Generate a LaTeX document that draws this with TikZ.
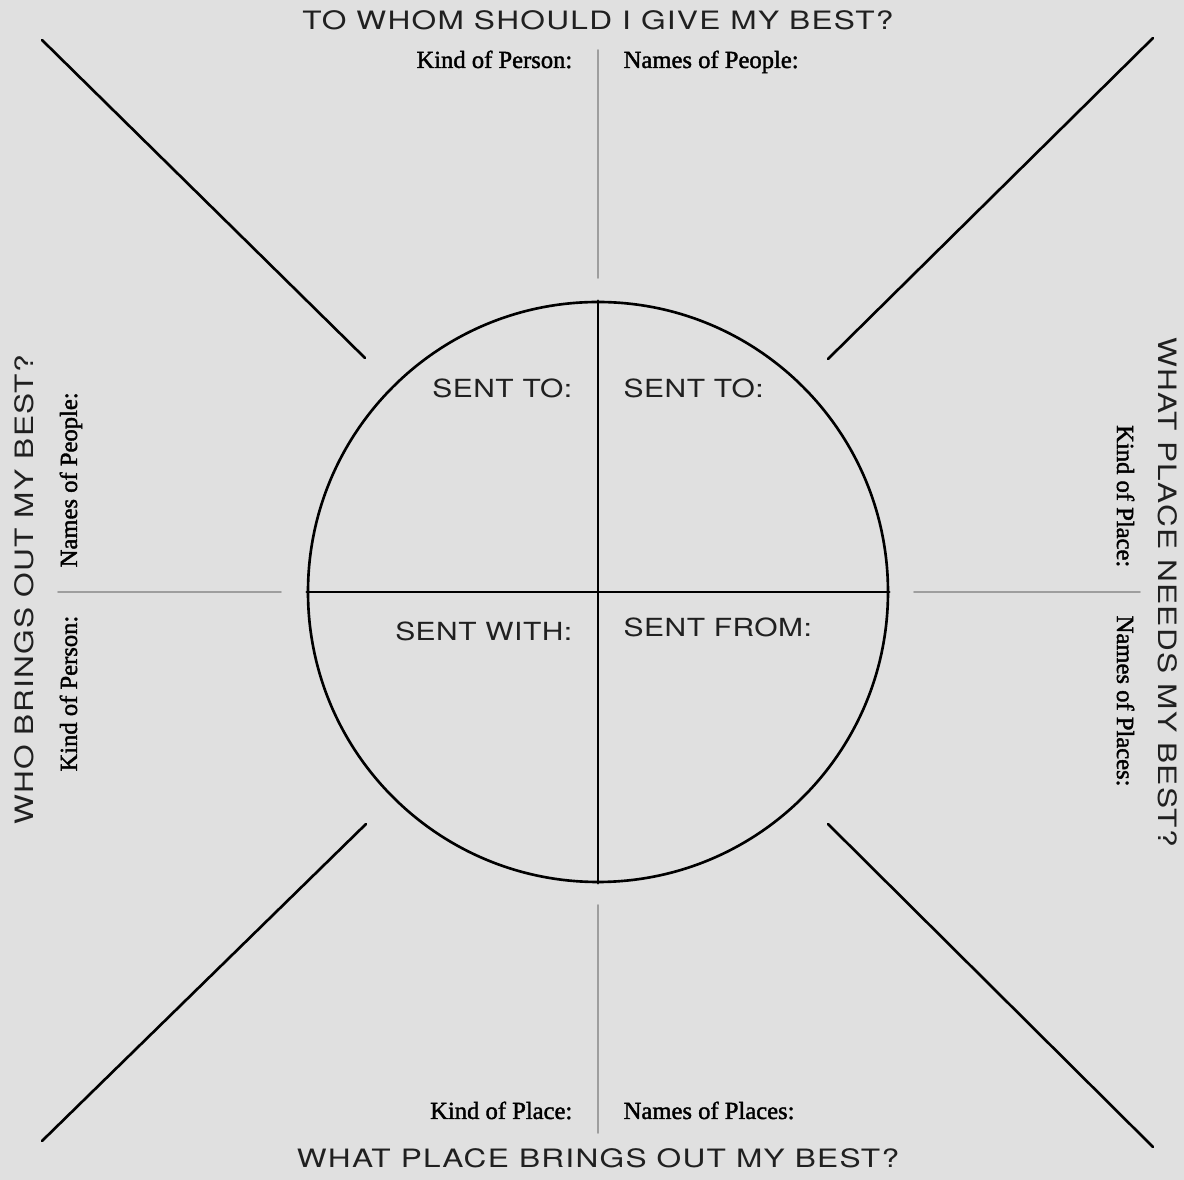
\documentclass[tikz,border=0pt]{standalone}
\usepackage{fontspec}
\setmainfont{Liberation Serif}
\newfontfamily\promptfont[FakeBold=1.6]{Liberation Serif}
\newfontfamily\headfont[FakeStretch=1.25,LetterSpace=5]{TeX Gyre Heros}
\newfontfamily\quadfont[FakeStretch=1.2,LetterSpace=2]{TeX Gyre Heros}
\usetikzlibrary{positioning}
\definecolor{paper}{RGB}{224,224,224}
\definecolor{rulegray}{RGB}{158,158,158}
\definecolor{inkdark}{RGB}{32,32,32}

\begin{document}
\begin{tikzpicture}[x=0.1mm,y=-0.1mm,line cap=round,line join=round,
  spoke/.style={black,line width=0.75pt},
  divider/.style={rulegray,line width=0.45pt},
  heading/.style={font=\headfont\fontsize{7.2}{8}\selectfont,text=inkdark,inner sep=0pt},
  quadlabel/.style={font=\quadfont\fontsize{7.1}{8}\selectfont,text=inkdark,inner sep=0pt},
  prompt/.style={font=\promptfont\fontsize{7}{8}\selectfont,text=black,inner sep=0pt}]
 \fill[paper] (0,0) rectangle (1184,1180);
 % the sent circle and its quarters
 \node[draw,spoke,circle,minimum size=58mm,inner sep=0pt] (disc) at (598,592) {};
 \draw[spoke] (disc.north) -- (disc.south);
 \draw[spoke] (disc.west) -- (disc.east);
 \node[quadlabel,anchor=base east] (tonw) at (573,398) {SENT TO:};
 \node[quadlabel,anchor=base west] (tone) at (623,398) {SENT TO:};
 \node[quadlabel,anchor=base east] (with) at (573,641) {SENT WITH:};
 \node[quadlabel,anchor=base west] (from) at (623,637) {SENT FROM:};
 % diagonal spokes
 \coordinate (nwin) at (365,358);  \coordinate (nwout) at (42,40);
 \coordinate (nein) at (828,359);  \coordinate (neout) at (1153,38);
 \coordinate (swin) at (366,824);  \coordinate (swout) at (42,1141);
 \coordinate (sein) at (828,824);  \coordinate (seout) at (1153,1147);
 \draw[spoke] (nwin) -- (nwout);
 \draw[spoke] (nein) -- (neout);
 \draw[spoke] (swin) -- (swout);
 \draw[spoke] (sein) -- (seout);
 % grey dividers
 \coordinate (topa) at (598,50);   \coordinate (topb) at (598,278);
 \coordinate (bota) at (598,905);  \coordinate (botb) at (598,1133);
 \coordinate (lefa) at (58,592);   \coordinate (lefb) at (281,592);
 \coordinate (riga) at (914,592);  \coordinate (rigb) at (1140,592);
 \draw[divider] (topa) -- (topb);
 \draw[divider] (bota) -- (botb);
 \draw[divider] (lefa) -- (lefb);
 \draw[divider] (riga) -- (rigb);
 % questions
 \node[heading,anchor=base] (qtop) at (598,30) {TO WHOM SHOULD I GIVE MY BEST?};
 \node[heading,anchor=base] (qbot) at (598,1168) {WHAT PLACE BRINGS OUT MY BEST?};
 \node[heading,anchor=base,rotate=90] (qlef) at (33,590) {WHO BRINGS OUT MY BEST?};
 \node[heading,anchor=base,rotate=-90] (qrig) at (1158,592) {WHAT PLACE NEEDS MY BEST?};
 % prompts
 \node[prompt,anchor=base east] (kindtop) at (573,68) {Kind of Person:};
 \node[prompt,anchor=base west] (nametop) at (623,68) {Names of People:};
 \node[prompt,anchor=base east] (kindbot) at (573,1119) {Kind of Place:};
 \node[prompt,anchor=base west] (namebot) at (623,1119) {Names of Places:};
 \node[prompt,anchor=base west,rotate=90] (namelef) at (77,568) {Names of People:};
 \node[prompt,anchor=base east,rotate=90] (kindlef) at (77,615) {Kind of Person:};
 \node[prompt,anchor=base east,rotate=-90] (kindrig) at (1117,568) {Kind of Place:};
 \node[prompt,anchor=base west,rotate=-90] (namerig) at (1117,615) {Names of Places:};
\end{tikzpicture}
\end{document}
